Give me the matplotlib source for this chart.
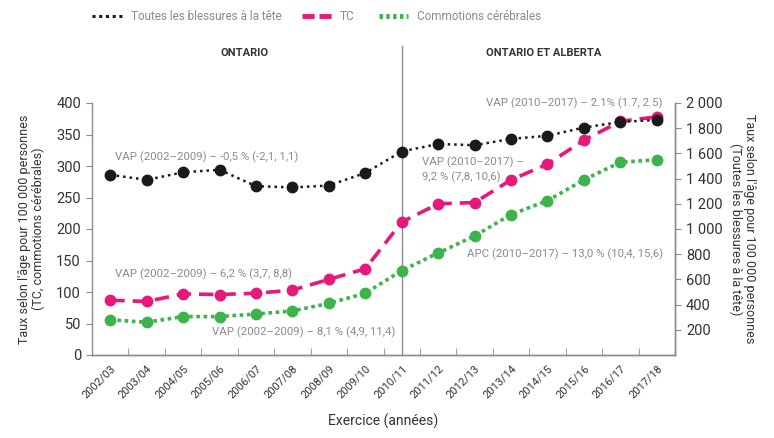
import matplotlib
matplotlib.use("Agg")
import matplotlib.pyplot as plt
from matplotlib.ticker import FixedLocator
from matplotlib.lines import Line2D

plt.rcParams['font.family'] = ['Roboto', 'DejaVu Sans']

years = ["2002/03", "2003/04", "2004/05", "2005/06", "2006/07", "2007/08", "2008/09",
         "2009/10", "2010/11", "2011/12", "2012/13", "2013/14", "2014/15", "2015/16",
         "2016/17", "2017/18"]
all_head = [1430, 1390, 1450, 1470, 1340, 1330, 1345, 1445, 1615, 1675, 1665, 1715,
            1740, 1805, 1850, 1865]
tc = [87, 85, 97, 96, 98, 103, 120, 137, 211, 240, 242, 278, 303, 341, 371, 378]
concussion = [56, 52, 61, 61, 65, 70, 82, 98, 134, 162, 189, 223, 245, 278, 306, 310]
left_ticks = [0, 50, 100, 150, 200, 250, 300, 350, 400]
right_ticks = [200, 400, 600, 800, 1000, 1200, 1400, 1600, 1800, 2000]
legend_labels = ["Toutes les blessures à la tête", "TC", "Commotions cérébrales"]

BLACK = "#1a1a1a"
PINK = "#e6197a"
GREEN = "#3cb44b"
GRAY_TXT = "#8a8a8a"
DARK = "#333333"
AX = "#8c8c8c"

W, H = 774, 438
fig = plt.figure(figsize=(W / 100, H / 100), dpi=100)
ax = fig.add_axes([92/W, 1-355/H, (675-92)/W, (355-103)/H])
ax2 = ax.twinx()

x = list(range(len(years)))
ax.plot(x, tc, color=PINK, lw=2.6, ls=(0, (4, 2.2)), marker='o', ms=7.5, mec=PINK,
        zorder=3)
ax.plot(x, concussion, color=GREEN, lw=2.6, ls=(0, (1, 1)), marker='o', ms=7.5,
        mec=GREEN, zorder=3)
ax2.plot(x, all_head, color=BLACK, lw=1.8, ls=(0, (1, 1.6)), marker='o', ms=7.5,
         mec=BLACK, zorder=3)

ax.set_xlim(-0.5, len(years) - 0.5)
ax.set_ylim(0, 400)
ax2.set_ylim(0, 2000)
ax.set_yticks(left_ticks)
ax2.set_yticks(right_ticks)
ax2.set_yticklabels([f"{v//1000} {v%1000:03d}" if v >= 1000 else str(v)
                     for v in right_ticks])

ax.set_xticks(x)
ax.set_xticklabels(years, rotation=45, ha='right', rotation_mode='anchor',
                   fontsize=8, color=DARK)
ax.xaxis.set_minor_locator(FixedLocator([i + 0.5 for i in range(len(years) - 1)]))
ax.tick_params(axis='x', which='major', length=0, pad=6)
ax.tick_params(axis='x', which='minor', direction='in', length=5, color=AX)

ax.tick_params(axis='y', length=4, color=AX, labelsize=10.5, labelcolor=DARK, pad=4)
ax2.tick_params(axis='y', length=4, color=AX, labelsize=10.5, labelcolor=DARK, pad=4)

for a in (ax, ax2):
    a.spines['top'].set_visible(False)
    for s in ('left', 'right', 'bottom'):
        a.spines[s].set_color(AX)
        a.spines[s].set_linewidth(1.0)
ax2.spines['left'].set_visible(False)

ax.set_ylabel("Taux selon l'âge pour 100 000 personnes\n(TC, commotions cérébrales)",
              fontsize=9, color=DARK, labelpad=8, linespacing=1.1)
ax2.set_ylabel("Taux selon l'âge pour 100 000 personnes\n(Toutes les blessures à la tête)",
               fontsize=9, color=DARK, rotation=270, labelpad=24, linespacing=1.1)
ax.set_xlabel("Exercice (années)", fontsize=10, color=DARK, labelpad=10)

# divider line
ax.plot([8, 8], [0, 490], color=AX, lw=1.0, clip_on=False, zorder=1)

ax.text(3.7, 480, "ONTARIO", fontsize=8, fontweight='bold', color=DARK,
        ha='center', va='center')
ax.text(11.9, 480, "ONTARIO ET ALBERTA", fontsize=8, fontweight='bold',
        color=DARK, ha='center', va='center')

fs = 8.2
ax.text(0.12, 314, "VAP (2002–2009) – -0,5 % (-2,1, 1,1)", fontsize=fs, color=GRAY_TXT,
        ha='left', va='center')
ax.text(0.12, 128, "VAP (2002–2009) – 6,2 % (3,7, 8,8)", fontsize=fs, color=GRAY_TXT,
        ha='left', va='center')
ax.text(2.8, 36, "VAP (2002–2009) – 8,1 % (4,9, 11,4)", fontsize=fs, color=GRAY_TXT,
        ha='left', va='center')
ax.text(10.3, 400, "VAP (2010–2017) – 2.1% (1.7, 2.5)", fontsize=fs, color=GRAY_TXT,
        ha='left', va='center')
ax.text(8.55, 294, "VAP (2010–2017) –\n9,2 % (7,8, 10,6)", fontsize=fs, color=GRAY_TXT,
        ha='left', va='center', linespacing=1.3)
ax.text(9.78, 160, "APC (2010–2017) – 13,0 % (10,4, 15,6)", fontsize=fs, color=GRAY_TXT,
        ha='left', va='center')

# legend (manual placement)
ly = 1 - 16/H
styles = [
    (BLACK, 2.2, (0, (1, 1.2)), 92, 123, 131),
    (PINK, 3.5, (0, (2.5, 1)), 302, 332, 340),
    (GREEN, 3.5, (0, (0.7, 0.7)), 379, 408, 417),
]
for (c, lw, ls, x0, x1, tx), lab in zip(styles, legend_labels):
    fig.add_artist(Line2D([x0/W, x1/W], [ly, ly], color=c, lw=lw, ls=ls,
                          transform=fig.transFigure))
    fig.text(tx/W, ly, lab, fontsize=8.5, color=GRAY_TXT, ha='left', va='center')

fig.savefig("out.png", dpi=100)
